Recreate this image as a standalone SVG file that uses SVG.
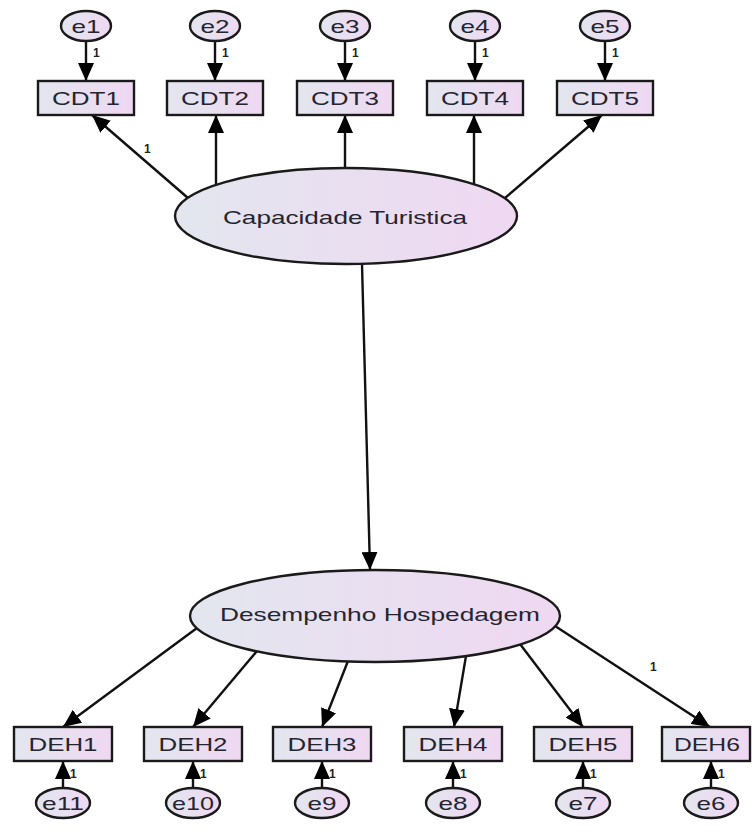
<svg xmlns="http://www.w3.org/2000/svg" width="752" height="833" viewBox="0 0 752 833">
<defs>
<linearGradient id="g" x1="0" y1="0" x2="1" y2="0">
<stop offset="0" stop-color="#e3e6ef"/>
<stop offset="1" stop-color="#efd8f2"/>
</linearGradient>
<marker id="ah" markerUnits="userSpaceOnUse" markerWidth="19" markerHeight="16" refX="18" refY="8" orient="auto">
<path d="M0,0 L18,8 L0,16 z" fill="#000"/>
</marker>
</defs>
<style>
.n{fill:url(#g);stroke:#1a1a1a;stroke-width:2.4}
.t{font-family:"Liberation Sans",Arial,sans-serif;font-size:19px;fill:#25252f;text-anchor:middle;dominant-baseline:central}
.w{font-family:"Liberation Sans",Arial,sans-serif;font-size:12px;font-weight:bold;fill:#222}
.c line{stroke:#111;stroke-width:2.4;marker-end:url(#ah)}
</style>
<rect width="752" height="833" fill="#fff"/>
<g class="c" id="connectors">
<line x1="86" y1="41" x2="86" y2="81"/>
<line x1="215" y1="41" x2="215" y2="81"/>
<line x1="345" y1="41" x2="345" y2="81"/>
<line x1="475" y1="41" x2="475" y2="81"/>
<line x1="605" y1="41" x2="605" y2="81"/>
<line x1="188" y1="198" x2="92" y2="115"/>
<line x1="216" y1="185" x2="216" y2="115"/>
<line x1="345" y1="168" x2="345" y2="115"/>
<line x1="474" y1="184" x2="474" y2="115"/>
<line x1="505" y1="198" x2="602" y2="115"/>
<line x1="362" y1="264" x2="370" y2="570"/>
<line x1="197" y1="628" x2="63" y2="727"/>
<line x1="257" y1="651" x2="193" y2="727"/>
<line x1="348" y1="661" x2="322" y2="727"/>
<line x1="466" y1="656" x2="454" y2="727"/>
<line x1="520" y1="644" x2="583" y2="727"/>
<line x1="555" y1="626" x2="710" y2="727"/>
<line x1="63" y1="788" x2="63" y2="761"/>
<line x1="193" y1="788" x2="193" y2="761"/>
<line x1="322" y1="788" x2="322" y2="761"/>
<line x1="453" y1="788" x2="453" y2="761"/>
<line x1="583" y1="788" x2="583" y2="761"/>
<line x1="711" y1="788" x2="711" y2="761"/>
</g>
<g id="weights">
<text class="w" x="93" y="57">1</text>
<text class="w" x="222" y="57">1</text>
<text class="w" x="352" y="57">1</text>
<text class="w" x="482" y="57">1</text>
<text class="w" x="612" y="57">1</text>
<text class="w" x="144" y="153">1</text>
<text class="w" x="650" y="671">1</text>
<text class="w" x="70" y="778">1</text>
<text class="w" x="200" y="778">1</text>
<text class="w" x="329" y="778">1</text>
<text class="w" x="460" y="778">1</text>
<text class="w" x="590" y="778">1</text>
<text class="w" x="718" y="778">1</text>
</g>
<g id="e1"><ellipse class="n" cx="86" cy="26" rx="25" ry="15"/><text class="t" x="86" y="26" textLength="29" lengthAdjust="spacingAndGlyphs">e1</text></g>
<g id="e2"><ellipse class="n" cx="215" cy="26" rx="25" ry="15"/><text class="t" x="215" y="26" textLength="29" lengthAdjust="spacingAndGlyphs">e2</text></g>
<g id="e3"><ellipse class="n" cx="345" cy="26" rx="25" ry="15"/><text class="t" x="345" y="26" textLength="29" lengthAdjust="spacingAndGlyphs">e3</text></g>
<g id="e4"><ellipse class="n" cx="475" cy="26" rx="25" ry="15"/><text class="t" x="475" y="26" textLength="29" lengthAdjust="spacingAndGlyphs">e4</text></g>
<g id="e5"><ellipse class="n" cx="605" cy="26" rx="25" ry="15"/><text class="t" x="605" y="26" textLength="29" lengthAdjust="spacingAndGlyphs">e5</text></g>
<g id="CDT1"><rect class="n" x="38" y="81" width="96" height="34"/><text class="t" x="86" y="98" textLength="68" lengthAdjust="spacingAndGlyphs">CDT1</text></g>
<g id="CDT2"><rect class="n" x="167" y="81" width="96" height="34"/><text class="t" x="215" y="98" textLength="68" lengthAdjust="spacingAndGlyphs">CDT2</text></g>
<g id="CDT3"><rect class="n" x="297" y="81" width="96" height="34"/><text class="t" x="345" y="98" textLength="68" lengthAdjust="spacingAndGlyphs">CDT3</text></g>
<g id="CDT4"><rect class="n" x="427" y="81" width="96" height="34"/><text class="t" x="475" y="98" textLength="68" lengthAdjust="spacingAndGlyphs">CDT4</text></g>
<g id="CDT5"><rect class="n" x="557" y="81" width="96" height="34"/><text class="t" x="605" y="98" textLength="68" lengthAdjust="spacingAndGlyphs">CDT5</text></g>
<g id="CapacidadeTuristica"><ellipse class="n" cx="346" cy="216" rx="171" ry="48"/><text class="t" x="345" y="217" textLength="244" lengthAdjust="spacingAndGlyphs">Capacidade Turistica</text></g>
<g id="DesempenhoHospedagem"><ellipse class="n" cx="375" cy="616" rx="185" ry="46"/><text class="t" x="380" y="614" textLength="320" lengthAdjust="spacingAndGlyphs">Desempenho Hospedagem</text></g>
<g id="DEH1"><rect class="n" x="14" y="727" width="98" height="34"/><text class="t" x="63" y="744" textLength="69" lengthAdjust="spacingAndGlyphs">DEH1</text></g>
<g id="DEH2"><rect class="n" x="144" y="727" width="98" height="34"/><text class="t" x="193" y="744" textLength="69" lengthAdjust="spacingAndGlyphs">DEH2</text></g>
<g id="DEH3"><rect class="n" x="273" y="727" width="98" height="34"/><text class="t" x="322" y="744" textLength="69" lengthAdjust="spacingAndGlyphs">DEH3</text></g>
<g id="DEH4"><rect class="n" x="404" y="727" width="98" height="34"/><text class="t" x="453" y="744" textLength="69" lengthAdjust="spacingAndGlyphs">DEH4</text></g>
<g id="DEH5"><rect class="n" x="534" y="727" width="98" height="34"/><text class="t" x="583" y="744" textLength="69" lengthAdjust="spacingAndGlyphs">DEH5</text></g>
<g id="DEH6"><rect class="n" x="662" y="727" width="88" height="34"/><text class="t" x="707" y="744" textLength="66" lengthAdjust="spacingAndGlyphs">DEH6</text></g>
<g id="e11"><ellipse class="n" cx="63" cy="803" rx="27" ry="15"/><text class="t" x="63" y="803" textLength="42" lengthAdjust="spacingAndGlyphs">e11</text></g>
<g id="e10"><ellipse class="n" cx="193" cy="803" rx="27" ry="15"/><text class="t" x="193" y="803" textLength="42" lengthAdjust="spacingAndGlyphs">e10</text></g>
<g id="e9"><ellipse class="n" cx="322" cy="803" rx="27" ry="15"/><text class="t" x="322" y="803" textLength="29" lengthAdjust="spacingAndGlyphs">e9</text></g>
<g id="e8"><ellipse class="n" cx="453" cy="803" rx="27" ry="15"/><text class="t" x="453" y="803" textLength="29" lengthAdjust="spacingAndGlyphs">e8</text></g>
<g id="e7"><ellipse class="n" cx="583" cy="803" rx="27" ry="15"/><text class="t" x="583" y="803" textLength="29" lengthAdjust="spacingAndGlyphs">e7</text></g>
<g id="e6"><ellipse class="n" cx="711" cy="803" rx="27" ry="15"/><text class="t" x="711" y="803" textLength="29" lengthAdjust="spacingAndGlyphs">e6</text></g>
</svg>
